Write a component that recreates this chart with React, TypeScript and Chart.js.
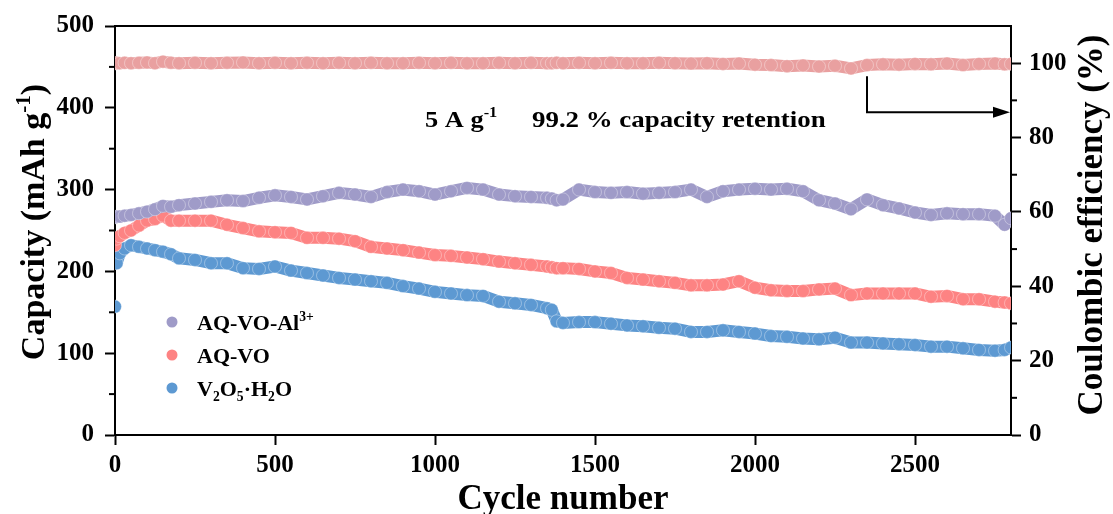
import React, { useEffect, useRef } from "react";
import { Chart, registerables } from "chart.js";

Chart.register(...registerables);

// ---------------- data ----------------
const cycles = [
  0, 5, 15, 30, 50, 75, 100, 125, 150, 175, 200, 250, 300, 350, 400, 450, 500, 550, 600, 650,
  700, 750, 800, 850, 900, 950, 1000, 1050, 1100, 1150, 1200, 1250, 1300, 1350, 1365, 1380, 1400,
  1450, 1500, 1550, 1600, 1650, 1700, 1750, 1800, 1850, 1900, 1950, 2000, 2050, 2100, 2150, 2200,
  2250, 2300, 2350, 2400, 2450, 2500, 2550, 2600, 2650, 2700, 2750, 2780, 2800,
];

const capacityAlVO = [
  266, 267, 267, 268, 269, 271, 273, 276, 280, 279, 281, 283, 285, 287, 286, 290, 293, 291, 288, 292,
  296, 294, 291, 297, 300, 298, 294, 298, 302, 300, 294, 292, 291, 290, 289, 287, 288,
  300, 297, 296, 297, 295, 296, 297, 300, 291, 298, 300, 301, 300, 301, 298, 287,
  283, 276, 288, 281, 277, 272, 269, 271, 270, 270, 268, 257, 265,
];

const capacityAQVO = [
  232, 240, 243, 247, 250, 256, 262, 264, 268, 262, 262, 262, 262, 257, 253, 249, 248, 247, 241, 241,
  240, 237, 230, 228, 226, 223, 220, 219, 217, 215, 212, 210, 208, 206, 205, 204, 204,
  203, 200, 198, 192, 190, 188, 186, 183, 183, 184, 188, 180, 177, 176, 176, 178,
  179, 171, 173, 173, 173, 173, 169, 170, 166, 166, 163, 162, 161,
];

const capacityV2O5 = [
  157, 210, 222, 228, 232, 230, 228, 226, 224, 221, 216, 214, 210, 210, 204, 203, 206, 201, 198, 195,
  192, 190, 188, 186, 182, 179, 175, 173, 171, 170, 163, 161, 159, 155, 153, 139, 137,
  138, 138, 136, 134, 133, 131, 130, 126, 126, 128, 126, 124, 121, 120, 118, 117,
  119, 113, 113, 112, 111, 110, 108, 108, 106, 104, 103, 104, 107,
];

const coulombicEfficiency = [
  99.9, 100.1, 100.0, 100.1, 100.0, 100.1, 100.2, 100.0, 100.4, 100.1, 100.0, 100.1, 100.0, 100.1, 100.2, 100.0, 100.1, 100.0, 100.1, 100.0,
  100.1, 100.0, 100.1, 100.0, 100.0, 100.1, 100.0, 100.1, 100.0, 100.0, 100.1, 100.0, 100.1, 100.0, 100.0, 100.1, 100.0,
  100.1, 100.0, 100.1, 100.0, 100.0, 100.1, 100.0, 99.9, 100.0, 99.8, 99.9, 99.6, 99.5, 99.2, 99.4, 99.1,
  99.3, 98.6, 99.5, 99.7, 99.6, 99.8, 99.7, 99.9, 99.5, 99.8, 99.9, 99.7, 99.8,
];

const cycleTicks = [0, 500, 1000, 1500, 2000, 2500];
const capacityTicks = [0, 100, 200, 300, 400, 500];
const ceTicks = [0, 20, 40, 60, 80, 100];
const capacityMinorTicks = [50, 150, 250, 350, 450];
const ceMinorTicks = [10, 30, 50, 70, 90];

const seriesLabels = ["AQ-VO-Al", "AQ-VO", "V2O5·H2O"];

// annotation anchors (data units)
const arrowCycle = 2350;
const arrowTopCE = 96.5;
const arrowCE = 86.8;

const COL_AL = "#9f9bc8";
const COL_AQ = "#fd8383";
const COL_V = "#5d99d2";
const COL_CE = "#e9a0a0";

const FONT = '"Liberation Serif", "Times New Roman", serif';

type Seg = { t: string; m?: "sup" | "sub" };

function richWidth(ctx: CanvasRenderingContext2D, segs: Seg[], size: number) {
  let w = 0;
  for (const s of segs) {
    const fs = s.m ? size * 0.62 : size;
    ctx.font = `bold ${fs}px ${FONT}`;
    w += ctx.measureText(s.t).width;
  }
  return w;
}

function drawRich(ctx: CanvasRenderingContext2D, segs: Seg[], x: number, y: number, size: number, sx = 1) {
  ctx.save();
  ctx.translate(x, y);
  ctx.scale(sx, 1);
  ctx.textBaseline = "alphabetic";
  ctx.textAlign = "left";
  ctx.fillStyle = "#000";
  let cx = 0;
  for (const s of segs) {
    const fs = s.m ? size * 0.62 : size;
    ctx.font = `bold ${fs}px ${FONT}`;
    const dy = s.m === "sup" ? -size * 0.4 : s.m === "sub" ? size * 0.22 : 0;
    ctx.fillText(s.t, cx, dy);
    cx += ctx.measureText(s.t).width;
  }
  ctx.restore();
}

function drawRotated(ctx: CanvasRenderingContext2D, segs: Seg[], baseX: number, centerY: number, size: number) {
  const w = richWidth(ctx, segs, size);
  ctx.save();
  ctx.translate(baseX, centerY);
  ctx.rotate(-Math.PI / 2);
  drawRich(ctx, segs, -w / 2, 0, size, 1);
  ctx.restore();
}

const decorPlugin = {
  id: "decor",
  afterDraw(chart: any) {
    const ctx: CanvasRenderingContext2D = chart.ctx;
    const { left, right, top } = chart.chartArea;
    const yS = chart.scales.y;
    const y1S = chart.scales.y1;
    const xS = chart.scales.x;
    ctx.save();
    ctx.strokeStyle = "#000";
    ctx.lineWidth = 2;
    // top frame line
    ctx.beginPath();
    ctx.moveTo(left - 1, top);
    ctx.lineTo(right + 1, top);
    ctx.stroke();
    // minor ticks
    for (const v of capacityMinorTicks) {
      const py = yS.getPixelForValue(v);
      ctx.beginPath();
      ctx.moveTo(left, py);
      ctx.lineTo(left - 6, py);
      ctx.stroke();
    }
    for (const v of ceMinorTicks) {
      const py = y1S.getPixelForValue(v);
      ctx.beginPath();
      ctx.moveTo(right, py);
      ctx.lineTo(right + 6, py);
      ctx.stroke();
    }
    // arrow
    const ax = xS.getPixelForValue(arrowCycle);
    const ay0 = y1S.getPixelForValue(arrowTopCE);
    const ay = y1S.getPixelForValue(arrowCE);
    ctx.beginPath();
    ctx.moveTo(ax, ay0);
    ctx.lineTo(ax, ay);
    ctx.lineTo(right - 14, ay);
    ctx.stroke();
    ctx.fillStyle = "#000";
    ctx.beginPath();
    ctx.moveTo(right - 1, ay);
    ctx.lineTo(right - 18, ay - 5.5);
    ctx.lineTo(right - 18, ay + 5.5);
    ctx.closePath();
    ctx.fill();

    // annotation text
    drawRich(ctx, [{ t: "5 A g" }, { t: "-1", m: "sup" }], 425, 127, 24, 1.1);
    drawRich(ctx, [{ t: "99.2 % capacity retention" }], 532, 127, 24, 1.12);

    // legend
    const legend: { segs: Seg[]; color: string; y: number }[] = [
      { segs: [{ t: seriesLabels[0] }, { t: "3+", m: "sup" }], color: COL_AL, y: 322 },
      { segs: [{ t: seriesLabels[1] }], color: COL_AQ, y: 355 },
      {
        segs: [
          { t: "V" }, { t: "2", m: "sub" }, { t: "O" }, { t: "5", m: "sub" }, { t: "·H" }, { t: "2", m: "sub" }, { t: "O" },
        ],
        color: COL_V,
        y: 388,
      },
    ];
    for (const it of legend) {
      ctx.fillStyle = it.color;
      ctx.beginPath();
      ctx.arc(172, it.y, 5.5, 0, Math.PI * 2);
      ctx.fill();
      drawRich(ctx, it.segs, 197, it.y + 8, 22, 1.0);
    }

    // axis titles
    drawRotated(ctx, [{ t: "Capacity (mAh g" }, { t: "-1", m: "sup" }, { t: ")" }], 44, 222, 34);
    drawRotated(ctx, [{ t: "Coulombic efficiency (%)" }], 1102, 225, 35);
    ctx.font = `bold 35px ${FONT}`;
    const xw = ctx.measureText("Cycle number").width;
    drawRich(ctx, [{ t: "Cycle number" }], (left + right) / 2 - xw / 2, 509, 35, 1.0);
    ctx.restore();
  },
};

function pts(ys: number[]) {
  return cycles.map((c, i) => ({ x: c, y: ys[i] }));
}

const setTicks = (vals: number[]) => (s: any) => {
  s.ticks = vals.map((v) => ({ value: v }));
};

export default function App() {
  const ref = useRef<HTMLCanvasElement | null>(null);
  useEffect(() => {
    document.body.style.margin = "0";
    document.body.style.overflow = "hidden";
    const canvas = ref.current;
    if (!canvas) return;
    const mk = (label: string, data: number[], color: string, axis: string, extra: any = {}) => ({
      label,
      data: pts(data),
      yAxisID: axis,
      borderColor: color,
      backgroundColor: color,
      borderWidth: 12,
      pointRadius: 6.5,
      pointBorderWidth: 1,
      pointBorderColor: "rgba(255,255,255,0.35)",
      pointBackgroundColor: color,
      tension: 0,
      showLine: true,
      borderCapStyle: "round",
      borderJoinStyle: "round",
      ...extra,
    });
    const tickFont = { family: FONT, size: 25, weight: "bold" as const };
    const grid = {
      drawOnChartArea: false,
      drawTicks: true,
      tickLength: 10,
      tickWidth: 2,
      tickColor: "#000",
    };
    const border = { display: true, width: 2, color: "#000" };
    const fmt = (v: any) => String(v);
    const chart = new Chart(canvas, {
      type: "line",
      data: {
        datasets: [
          mk("Coulombic efficiency", coulombicEfficiency, COL_CE, "y1"),
          mk("AQ-VO-Al3+", capacityAlVO, COL_AL, "y"),
          mk("AQ-VO", capacityAQVO, COL_AQ, "y"),
          mk("V2O5·H2O", capacityV2O5, COL_V, "y", {
            segment: {
              borderColor: (c: any) => (c.p0DataIndex === 0 ? "rgba(0,0,0,0)" : COL_V),
            },
          }),
        ],
      },
      options: {
        animation: false,
        responsive: true,
        maintainAspectRatio: false,
        layout: { padding: { top: 26, left: 0, right: 0, bottom: 0 } },
        plugins: { legend: { display: false }, tooltip: { enabled: false } },
        scales: {
          x: {
            type: "linear",
            min: 0,
            max: 2800,
            afterBuildTicks: setTicks(cycleTicks),
            ticks: { font: tickFont, color: "#000", padding: 6, maxRotation: 0, autoSkip: false, callback: fmt },
            grid,
            border,
            afterFit: (s: any) => {
              s.height = 79;
            },
          },
          y: {
            type: "linear",
            position: "left",
            min: 0,
            max: 500,
            afterBuildTicks: setTicks(capacityTicks),
            ticks: { font: tickFont, color: "#000", padding: 11, autoSkip: false, callback: fmt },
            grid,
            border,
            afterFit: (s: any) => {
              s.width = 115;
            },
          },
          y1: {
            type: "linear",
            position: "right",
            min: 0,
            max: 110,
            afterBuildTicks: setTicks(ceTicks),
            ticks: { font: tickFont, color: "#000", padding: 8, autoSkip: false, callback: fmt },
            grid,
            border,
            afterFit: (s: any) => {
              s.width = 102;
            },
          },
        },
      } as any,
      plugins: [decorPlugin],
    });
    return () => chart.destroy();
  }, []);
  return (
    <div style={{ width: 1113, height: 514, position: "relative", background: "#fff" }}>
      <canvas ref={ref} />
    </div>
  );
}
